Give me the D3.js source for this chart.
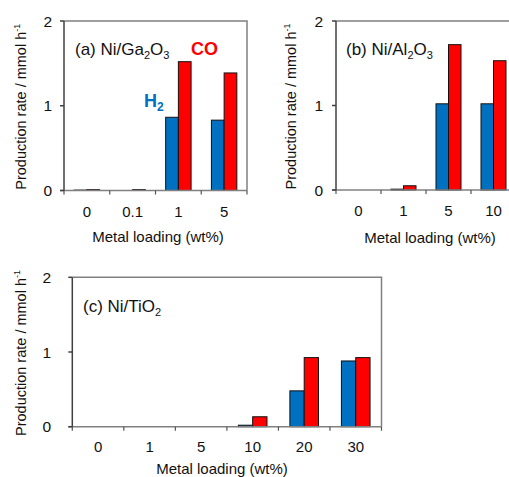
<!DOCTYPE html>
<html><head><meta charset="utf-8">
<script src="https://cdn.jsdelivr.net/npm/d3@7"></script>
<style>body{margin:0;background:#fff}svg{display:block;font-family:"Liberation Sans",Arial,sans-serif}</style>
</head><body>
<svg id="c" width="509" height="477"></svg>
<script>
const series = ["H2", "CO"];
const seriesColors = ["#0070C0", "#FF0000"];
const yTicks = [0, 1, 2];

const catsA = ["0", "0.1", "1", "5"];
const h2A = [0.005, 0, 0.864, 0.83];
const coA = [0.01, 0.01, 1.52, 1.387];

const catsB = ["0", "1", "5", "10"];
const h2B = [0, 0.01, 1.02, 1.02];
const coB = [0, 0.05, 1.72, 1.53];

const catsC = ["0", "1", "5", "10", "20", "30"];
const h2C = [0, 0, 0, 0.02, 0.48, 0.88];
const coC = [0, 0, 0, 0.133, 0.925, 0.925];

const svg = d3.select("#c");

function panel(o) {
  const g = svg.append("g");
  const x = d3.scaleBand().domain(o.cats).range([o.left, o.right]).padding(0);
  const x1 = d3.scaleBand().domain(series).range([0, x.bandwidth()]).paddingInner(0).paddingOuter(0.8);
  const y = d3.scaleLinear().domain([0, 2]).range([o.bottom, o.top]);

  // frame (top, right)
  g.append("path")
    .attr("d", `M${o.left},${y(2)}H${o.right}V${y(0)}`)
    .attr("fill", "none").attr("stroke", "#808080").attr("stroke-width", 1.5);

  // bars
  const rows = o.cats.map((c, i) => ({ c, vals: [o.h2[i], o.co[i]] }));
  rows.forEach(r => {
    r.vals.forEach((v, j) => {
      if (v <= 0) return;
      g.append("rect")
        .attr("x", x(r.c) + x1(series[j]))
        .attr("y", y(v))
        .attr("width", x1.bandwidth())
        .attr("height", y(0) - y(v))
        .attr("fill", seriesColors[j])
        .attr("stroke", "#111").attr("stroke-width", 1);
    });
  });

  // x axis line + ticks at band boundaries
  g.append("line").attr("x1", o.left - 4).attr("x2", o.right).attr("y1", y(0)).attr("y2", y(0))
    .attr("stroke", "#808080").attr("stroke-width", 1.5);
  const bounds = o.cats.map(c => x(c)).concat([o.right]);
  g.selectAll(null).data(bounds).enter().append("line")
    .attr("x1", d => d).attr("x2", d => d).attr("y1", y(0)).attr("y2", y(0) + 4)
    .attr("stroke", "#555").attr("stroke-width", 1.2);
  g.selectAll(null).data(o.cats).enter().append("text")
    .attr("x", d => x(d) + x.bandwidth() / 2).attr("y", o.xTickY)
    .attr("text-anchor", "middle").attr("font-size", 15).attr("fill", "#111").text(d => d);

  // y axis
  g.append("line").attr("x1", o.left).attr("x2", o.left).attr("y1", y(2)).attr("y2", y(0))
    .attr("stroke", "#404040").attr("stroke-width", 1.5);
  g.selectAll(null).data(yTicks).enter().append("line")
    .attr("x1", o.left - 4).attr("x2", o.left).attr("y1", d => y(d)).attr("y2", d => y(d))
    .attr("stroke", "#404040").attr("stroke-width", 1.5);
  g.selectAll(null).data(yTicks).enter().append("text")
    .attr("x", o.yTickX).attr("y", d => y(d) + 5.5)
    .attr("text-anchor", "end").attr("font-size", 15.5).attr("fill", "#111").text(d => d);

  // axis titles
  g.append("text").attr("x", o.xLabelX).attr("y", o.xLabelY).attr("text-anchor", "middle")
    .attr("font-size", 15).attr("fill", "#111").text("Metal loading (wt%)");
  const yl = g.append("text")
    .attr("transform", `translate(${o.yLabelX},${(o.top + o.bottom) / 2 + 1}) rotate(-90)`)
    .attr("text-anchor", "middle").attr("font-size", 14.5).attr("fill", "#111");
  yl.append("tspan").text("Production rate / mmol h");
  yl.append("tspan").attr("font-size", 9).attr("dy", -6).text("-1");

  // panel title
  const t = g.append("text").attr("x", o.titleX).attr("y", o.titleY).attr("font-size", 17).attr("fill", "#111");
  o.title.forEach(p => {
    const s = t.append("tspan").text(p[0]);
    if (p[1] === "sub") s.attr("font-size", 11).attr("dy", 4);
    else s.attr("dy", p[1] === "back" ? -4 : 0);
  });
  return { x, y, g };
}

const pa = panel({ cats: catsA, h2: h2A, co: coA, left: 64, right: 247, top: 21, bottom: 190.5,
  xTickY: 216.5, yTickX: 52, xLabelX: 158, xLabelY: 241.5, yLabelX: 25.5,
  titleX: 75, titleY: 55,
  title: [["(a) Ni/Ga", ""], ["2", "sub"], ["O", "back"], ["3", "sub"]] });

// series labels in panel (a)
pa.g.append("text").attr("x", 191).attr("y", 55).attr("font-size", 18).attr("font-weight", "bold")
  .attr("fill", seriesColors[1]).text("CO");
const h2t = pa.g.append("text").attr("x", 144).attr("y", 107).attr("font-size", 18).attr("font-weight", "bold")
  .attr("fill", seriesColors[0]);
h2t.append("tspan").text("H");
h2t.append("tspan").attr("font-size", 12).attr("dy", 4).text("2");

panel({ cats: catsB, h2: h2B, co: coB, left: 336, right: 516, top: 21, bottom: 190,
  xTickY: 216, yTickX: 323, xLabelX: 430, xLabelY: 242.5, yLabelX: 295.5,
  titleX: 346, titleY: 54.5,
  title: [["(b) Ni/Al", ""], ["2", "sub"], ["O", "back"], ["3", "sub"]] });

panel({ cats: catsC, h2: h2C, co: coC, left: 72.3, right: 381.5, top: 277.3, bottom: 426.7,
  xTickY: 452, yTickX: 51, xLabelX: 222, xLabelY: 473.5, yLabelX: 25.5,
  titleX: 83, titleY: 312,
  title: [["(c) Ni/TiO", ""], ["2", "sub"]] });
</script>
</body></html>
